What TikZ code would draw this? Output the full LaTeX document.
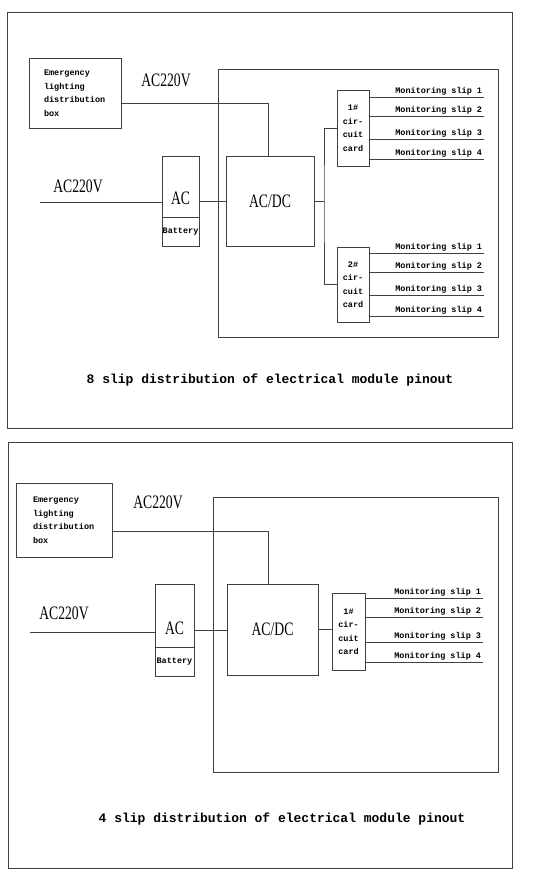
\documentclass[tikz,border=0pt]{standalone}
\usepackage{fontspec}
\setmainfont{Liberation Serif}
\newfontfamily\monofont{Liberation Mono}
\newfontfamily\narrowfont[FakeStretch=0.72]{Liberation Serif}
\usetikzlibrary{positioning}

\tikzset{
  wire/.style={draw=black!75, line width=0.8pt},
  box/.style={wire, rectangle, inner sep=0pt},
  small/.style={font=\monofont\bfseries\fontsize{8.5}{13.5}\selectfont},
  volt/.style={font=\narrowfont\fontsize{19}{22}\selectfont},
  slip/.style={small, anchor=south east, inner sep=1.5pt},
  ttl/.style={font=\monofont\bfseries\fontsize{13}{15}\selectfont},
}

\begin{document}
\begin{tikzpicture}[x=1pt,y=-1pt]
  \useasboundingbox (0,0) rectangle (541,880);

  % 8 slip panel
  \draw[wire] (7,12) rectangle (512,428);
  \draw[wire] (218,69) rectangle (498,337);
  \node[box, small, align=left, text width=62, minimum width=92, minimum height=70] (elb1) at (75,93) {Emergency\\lighting\\distribution\\box};
  \node[volt] (v1a) at (166,80) {AC220V};
  \node[volt] (v1b) at (78,186) {AC220V};
  \node[box, volt, minimum width=88, minimum height=90] (acdc1) at (270,201) {AC/DC};
  \node[box, minimum width=37, minimum height=90] (acb1) at (180.5,201) {};
  \node[volt] (ac1) at (180.5,198) {AC};
  \node[small] (bat1) at (180.5,232) {Battery};
  \draw[wire] (acb1.west |- 0,217) -- (acb1.east |- 0,217);
  \coordinate (in1) at (40,202);
  \draw[wire] (in1) -- (in1 -| acb1.west);
  \draw[wire] (acb1.east) -- (acb1.east -| acdc1.west);
  \draw[wire] ([yshift=-10]elb1.east) -| ([xshift=-2]acdc1.north);
  \node[box, small, align=center, minimum width=32, minimum height=76] (c11) at (353,128) {1\#\\cir-\\cuit\\card};
  \node[box, small, align=center, minimum width=32, minimum height=75] (c12) at (353,284.5) {2\#\\cir-\\cuit\\card};
  \coordinate (br1) at (324,201);
  \draw[wire] (acdc1.east) -- (br1);
  \draw[wire] (c11.west) -| (br1) |- (c12.west);
  \foreach \y [count=\n] in {97,116,139,159} {
    \coordinate (ea\n) at (484,\y);
    \draw[wire] (c11.east |- ea\n) -- (ea\n) node[slip] (sa\n) {Monitoring slip \n};
  }
  \foreach \y [count=\n] in {253,272,295,316} {
    \coordinate (eb\n) at (484,\y);
    \draw[wire] (c12.east |- eb\n) -- (eb\n) node[slip] (sb\n) {Monitoring slip \n};
  }
  \node[ttl] (t1) at (270,380) {8 slip distribution of electrical module pinout};

  % 4 slip panel
  \draw[wire] (8,442) rectangle (512,868);
  \draw[wire] (213,497) rectangle (498,772);
  \node[box, small, align=left, text width=62, minimum width=96, minimum height=74] (elb2) at (64,520) {Emergency\\lighting\\distribution\\box};
  \node[volt] (v2a) at (158,502) {AC220V};
  \node[volt] (v2b) at (64,613) {AC220V};
  \node[box, volt, minimum width=91, minimum height=91] (acdc2) at (272.5,629.5) {AC/DC};
  \node[box, minimum width=39, minimum height=92] (acb2) at (174.5,630) {};
  \node[volt] (ac2) at (174.5,628) {AC};
  \node[small] (bat2) at (174.5,662) {Battery};
  \draw[wire] (acb2.west |- 0,647) -- (acb2.east |- 0,647);
  \coordinate (in2) at (30,632);
  \draw[wire] (in2) -- (in2 -| acb2.west);
  \draw[wire] (acb2.east) -- (acb2.east -| acdc2.west);
  \draw[wire] ([yshift=-11]elb2.east) -| ([xshift=-4.5]acdc2.north);
  \node[box, small, align=center, minimum width=33, minimum height=77] (c21) at (348.5,631.5) {1\#\\cir-\\cuit\\card};
  \draw[wire] (acdc2.east) -- (acdc2.east -| c21.west);
  \foreach \y [count=\n] in {598,617,642,662} {
    \coordinate (ec\n) at (483,\y);
    \draw[wire] (c21.east |- ec\n) -- (ec\n) node[slip] (sc\n) {Monitoring slip \n};
  }
  \node[ttl] (t2) at (282,819) {4 slip distribution of electrical module pinout};
\end{tikzpicture}
\end{document}
